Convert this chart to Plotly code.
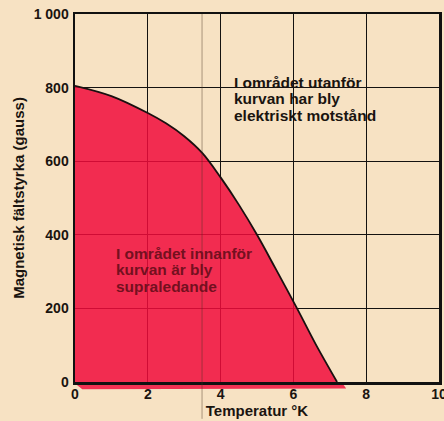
import plotly.graph_objects as go

# Critical-field curve of lead
temperature_k = [0, 1, 2, 2.5, 3, 3.5, 4.0, 4.5, 5.0, 5.5, 6.1, 6.6, 7.2]
field_gauss = [805, 777, 731, 703, 668, 622, 556, 482, 400, 310, 200, 105, 0]

x_ticks = [0, 2, 4, 6, 8, 10]
y_ticks = [0, 200, 400, 600, 800, 1000]
y_tick_labels = ["0", "200", "400", "600", "800", "1 000"]

outside_lines = ["I området utanför", "kurvan har bly", "elektriskt motstånd"]
outside_x = 4.31
outside_y = [815, 770, 725]
inside_lines = ["I området innanför", "kurvan är bly", "supraledande"]
inside_x = 1.07
inside_y = [350, 305, 260]

bg = "#f7e2c3"
font_family = "Liberation Sans, Arial, sans-serif"

fig = go.Figure()
fig.add_trace(go.Scatter(
    x=temperature_k, y=field_gauss,
    mode="lines",
    line=dict(color="#1a1010", width=1.8, shape="spline", smoothing=1.0),
    fill="tozeroy",
    fillcolor="rgba(241,12,60,0.85)",
    hoverinfo="skip",
    showlegend=False,
))

for txt, yy in zip(outside_lines, outside_y):
    fig.add_annotation(
        x=outside_x, y=yy, xref="x", yref="y", text=txt,
        showarrow=False, xanchor="left", yanchor="middle", align="left",
        font=dict(family=font_family, size=15.5, color="#1a1410", weight="bold"),
    )
for txt, yy in zip(inside_lines, inside_y):
    fig.add_annotation(
        x=inside_x, y=yy, xref="x", yref="y", text=txt,
        showarrow=False, xanchor="left", yanchor="middle", align="left",
        font=dict(family=font_family, size=15.5, color="#74101f", weight="bold"),
    )

# faint paper crease and misregistered red ink below the axis (print artefacts)
fig.add_shape(type="line", xref="x", yref="paper", x0=3.49, x1=3.49, y0=-0.1, y1=1,
              line=dict(color="rgba(70,50,35,0.45)", width=1), layer="above")
fig.add_shape(type="path", xref="paper", yref="paper",
              path="M 0,-0.004 L 0.735,-0.004 L 0.745,-0.018 L 0.02,-0.02 Z",
              fillcolor="rgba(241,30,70,0.9)", line=dict(width=0), layer="below")

fig.update_layout(
    width=444, height=421,
    margin=dict(l=75, r=5, t=14, b=39),
    paper_bgcolor=bg, plot_bgcolor=bg,
    font=dict(family=font_family, size=14, color="#1a1410", weight="bold"),
    showlegend=False,
)
fig.update_xaxes(
    range=[0, 10], tickvals=x_ticks, automargin=False,
    showgrid=True, gridcolor="#141210", gridwidth=1,
    showline=True, linecolor="#111", linewidth=2.5, mirror=True,
    zeroline=False, ticks="", ticklabelstandoff=-2, ticklabeloverflow="allow",
    tickfont=dict(size=14, weight="bold"),
    title=dict(text="Temperatur °K", standoff=2,
               font=dict(size=15, weight="bold")),
)
fig.update_yaxes(
    range=[0, 1000], tickvals=y_ticks, ticktext=y_tick_labels, automargin=False,
    showgrid=True, gridcolor="#141210", gridwidth=1,
    showline=True, linecolor="#111", linewidth=2.5, mirror=True,
    zeroline=False, ticks="", ticklabelstandoff=1,
    tickfont=dict(size=14, weight="bold"),
    title=dict(text="Magnetisk fältstyrka (gauss)", standoff=6,
               font=dict(size=15, weight="bold")),
)

fig.write_html(
    "out.html",
    config={"displayModeBar": False, "staticPlot": True},
    post_script="document.body.style.margin='0';document.body.style.background='" + bg + "';",
)
